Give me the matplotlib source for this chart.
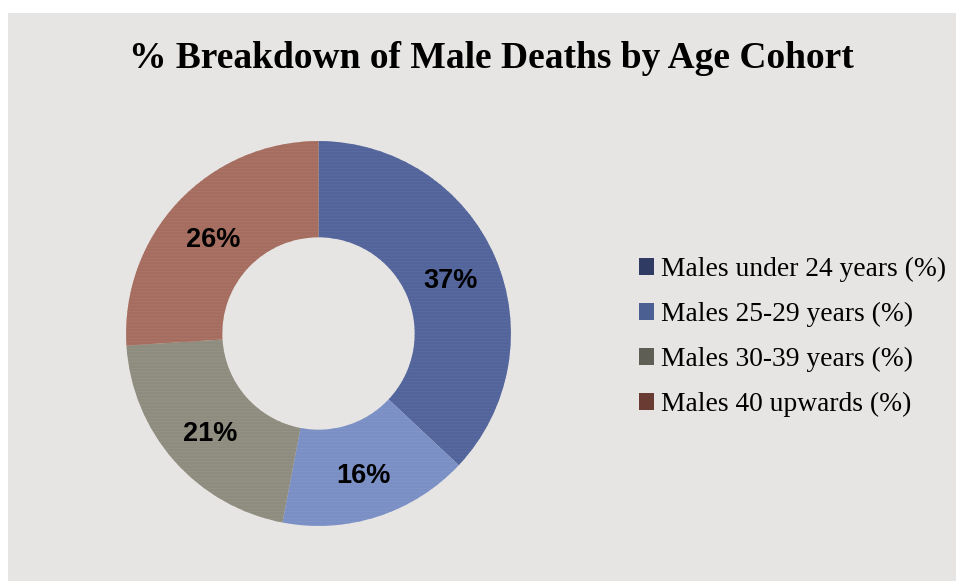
import matplotlib.pyplot as plt
from matplotlib.patches import Patch, Rectangle
from matplotlib.transforms import offset_copy

cohorts = ['Males under 24 years (%)', 'Males 25-29 years (%)',
           'Males 30-39 years (%)', 'Males 40 upwards (%)']
shares = [37, 16, 21, 26]

wedge_colors = ['#52649a', '#7a8fc4', '#8e8c7e', '#a46d5f']
stripe_colors = ['#5a6ca2', '#8396ca', '#979586', '#ac7567']
key_colors = ['#2f3b63', '#4b5f92', '#5e5e55', '#6a3b32']

plt.rcParams['hatch.linewidth'] = 0.6

fig = plt.figure(figsize=(9.56, 5.81), dpi=100)
fig.patch.set_facecolor('white')

# grey chart area, white strip along top and left
fig.patches.append(Rectangle((8 / 956, 0), 1, 1 - 13 / 581, transform=fig.transFigure,
                             facecolor='#e6e5e3', edgecolor='none', zorder=-10))

ax = fig.add_axes([78 / 956, 7 / 581, 481 / 956, 481 / 581])
ax.patch.set_visible(False)
wedges, texts = ax.pie(shares, colors=wedge_colors, startangle=90, counterclock=False,
                       labels=[f'{v}%' for v in shares], labeldistance=0.75,
                       wedgeprops=dict(width=0.5, linewidth=0),
                       textprops=dict(fontsize=19.5, fontweight='bold', family='Liberation Sans',
                                      ha='center', va='center'))
# faint horizontal grain on the ring
for w, sc in zip(wedges, stripe_colors):
    w.set_edgecolor(sc)
    w.set_hatch('-----')
# nudge the percentages down a little
for t in texts:
    t.set_transform(offset_copy(ax.transData, fig=fig, x=0, y=-5, units='dots'))
ax.set_xlim(-1.25, 1.25)
ax.set_ylim(-1.25, 1.25)
ax.set_aspect('equal')
ax.axis('off')

fig.text(491 / 956, 1 - 58 / 581, '% Breakdown of Male Deaths by Age Cohort',
         ha='center', va='center', fontsize=27, fontweight='bold', family='Liberation Serif')

handles = [Patch(facecolor=c, edgecolor='none') for c in key_colors]
fig.legend(handles, cohorts, loc='center left', bbox_to_anchor=(614 / 956, 1 - 337 / 581),
           frameon=False, prop=dict(family='Liberation Serif', size=19.8),
           handlelength=0.55, handleheight=0.55, handletextpad=0.25, labelspacing=0.72)

fig.savefig('out.png', dpi=100)
